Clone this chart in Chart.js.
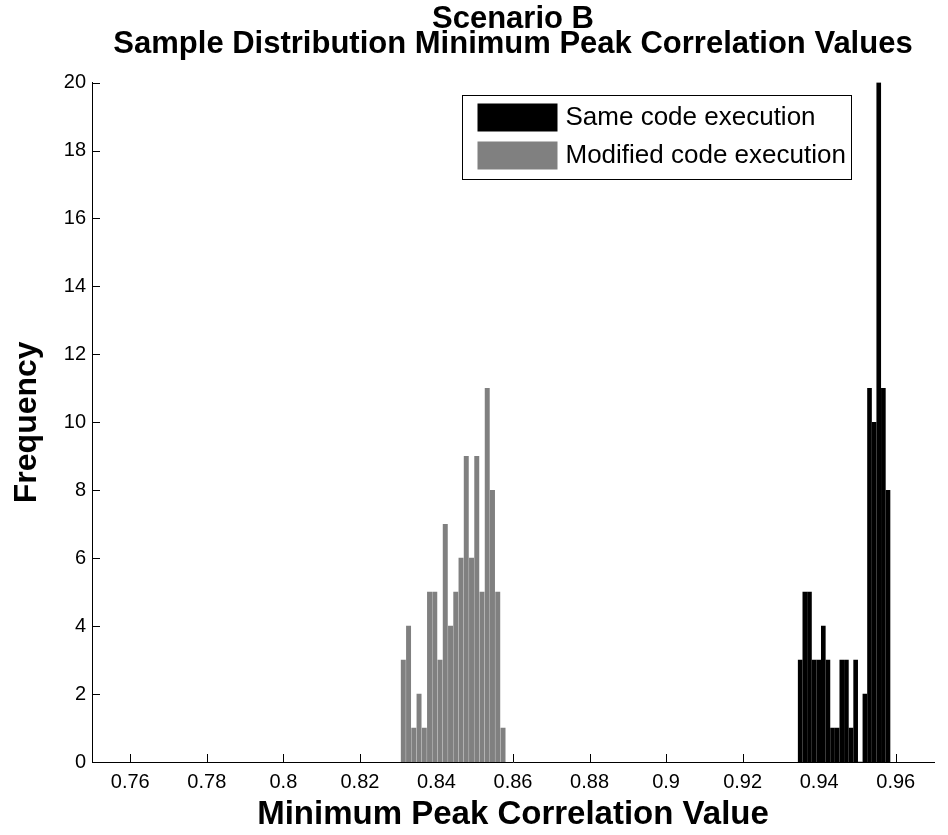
<!DOCTYPE html>
<html>
<head>
<meta charset="utf-8">
<title>Scenario B</title>
<script src="https://cdn.jsdelivr.net/npm/chart.js@4.4.1/dist/chart.umd.min.js"></script>
<style>
  html, body { margin: 0; padding: 0; background: #fff; }
  #wrap { position: relative; width: 948px; height: 835px; }
</style>
</head>
<body>
<div id="wrap"><canvas id="histChart" width="948" height="835"></canvas></div>
<script>
// histogram bin centres and counts, same code run
const sameBins = [0.93504, 0.93625, 0.93746, 0.93867, 0.93987, 0.94108, 0.94229, 0.94349, 0.94470, 0.94591,
                  0.94711, 0.94832, 0.94953, 0.95074, 0.95194, 0.95315, 0.95436, 0.95556, 0.95677, 0.95798];
const sameCounts = [3, 5, 5, 3, 3, 4, 3, 1, 1, 3, 3, 1, 3, 0, 2, 11, 10, 20, 11, 8];

// histogram bin centres and counts, modified code run
const modifiedBins = [0.83134, 0.83271, 0.83408, 0.83545, 0.83682, 0.83819, 0.83956, 0.84093, 0.84230, 0.84368,
                      0.84505, 0.84642, 0.84779, 0.84916, 0.85053, 0.85190, 0.85327, 0.85464, 0.85601, 0.85739];
const modifiedCounts = [3, 4, 1, 2, 1, 5, 5, 3, 7, 4, 5, 6, 9, 6, 9, 5, 11, 8, 5, 1];

const xTicks = [0.76, 0.78, 0.80, 0.82, 0.84, 0.86, 0.88, 0.90, 0.92, 0.94, 0.96];
const xTickLabels = ['0.76', '0.78', '0.8', '0.82', '0.84', '0.86', '0.88', '0.9', '0.92', '0.94', '0.96'];
const yTicks = [0, 2, 4, 6, 8, 10, 12, 14, 16, 18, 20];

const FONT = 'Liberation Sans, Arial, Helvetica, sans-serif';
Chart.defaults.font.family = FONT;
Chart.defaults.color = '#000';

function toPoints(bins, counts) {
    return bins.map((b, i) => ({ x: b, y: counts[i] }));
}

// short tick marks pointing into the plot, matlab style
const innerTicks = {
    id: 'innerTicks',
    beforeDatasetsDraw(chart) {
        const { ctx, chartArea, scales } = chart;
        ctx.save();
        ctx.strokeStyle = '#000';
        ctx.lineWidth = 1;
        ctx.beginPath();
        scales.x.ticks.forEach(t => {
            const px = Math.round(scales.x.getPixelForValue(t.value)) + 0.5;
            ctx.moveTo(px, chartArea.bottom);
            ctx.lineTo(px, chartArea.bottom - 8);
        });
        scales.y.ticks.forEach(t => {
            const py = Math.round(scales.y.getPixelForValue(t.value)) + 0.5;
            ctx.moveTo(chartArea.left, py);
            ctx.lineTo(chartArea.left + 8, py);
        });
        ctx.stroke();
        ctx.restore();
    }
};

// framed legend in the upper right of the axes
const boxedLegend = {
    id: 'boxedLegend',
    afterDraw(chart) {
        const { ctx } = chart;
        const x = 462.5, y = 95.5, w = 389, h = 84;
        ctx.save();
        ctx.fillStyle = '#fff';
        ctx.fillRect(x, y, w, h);
        ctx.strokeStyle = '#000';
        ctx.lineWidth = 1;
        ctx.strokeRect(x, y, w, h);
        ctx.font = '26px ' + FONT;
        ctx.textBaseline = 'middle';
        ctx.textAlign = 'left';
        chart.data.datasets.forEach((ds, i) => {
            const rowY = y + 8 + i * 38;
            ctx.fillStyle = ds.backgroundColor;
            ctx.fillRect(x + 15, rowY, 80, 28);
            ctx.fillStyle = '#000';
            ctx.fillText(ds.label, x + 103, rowY + 14);
        });
        ctx.restore();
    }
};

const ctx = document.getElementById('histChart').getContext('2d');
new Chart(ctx, {
    type: 'bar',
    data: {
        datasets: [
            {
                label: 'Same code execution',
                data: toPoints(sameBins, sameCounts),
                backgroundColor: '#000000',
                stack: 'hist',
                barThickness: 'flex',
                barPercentage: 0.86,
                categoryPercentage: 1
            },
            {
                label: 'Modified code execution',
                data: toPoints(modifiedBins, modifiedCounts),
                backgroundColor: '#808080',
                stack: 'hist',
                barThickness: 'flex',
                barPercentage: 0.82,
                categoryPercentage: 1
            }
        ]
    },
    options: {
        responsive: false,
        animation: false,
        devicePixelRatio: 1,
        layout: { padding: { left: 0, right: 14, top: 0, bottom: 0 } },
        plugins: {
            legend: { display: false },
            tooltip: { enabled: false },
            title: {
                display: true,
                fullSize: false,
                text: ['Scenario B', 'Sample Distribution Minimum Peak Correlation Values'],
                color: '#000',
                font: { size: 31, weight: 'bold', lineHeight: 0.8 },
                padding: { top: 7, bottom: 26 }
            }
        },
        scales: {
            x: {
                type: 'linear',
                min: 0.75,
                max: 0.97,
                offset: false,
                afterBuildTicks: s => { s.ticks = xTicks.map(v => ({ value: v })); },
                afterFit: s => { s.height = 73; },
                ticks: {
                    callback: (v, i) => xTickLabels[i],
                    font: { size: 20 },
                    color: '#000',
                    padding: 8,
                    maxRotation: 0,
                    autoSkip: false
                },
                grid: { display: false, drawTicks: false, offset: false },
                border: { display: true, color: '#000', width: 1 },
                title: {
                    display: true,
                    text: 'Minimum Peak Correlation Value',
                    color: '#000',
                    font: { size: 33, weight: 'bold', lineHeight: 1.2 },
                    padding: { top: 0, bottom: 0 }
                }
            },
            y: {
                min: 0,
                max: 20,
                stacked: false,
                afterBuildTicks: s => { s.ticks = yTicks.map(v => ({ value: v })); },
                afterFit: s => { s.width = 92; },
                ticks: {
                    font: { size: 20 },
                    color: '#000',
                    padding: 6
                },
                grid: { display: false, drawTicks: false },
                border: { display: true, color: '#000', width: 1 },
                title: {
                    display: true,
                    text: 'Frequency',
                    color: '#000',
                    font: { size: 32, weight: 'bold', lineHeight: 1.2 },
                    padding: { top: 8, bottom: 0 }
                }
            }
        }
    },
    plugins: [innerTicks, boxedLegend]
});
</script>
</body>
</html>
